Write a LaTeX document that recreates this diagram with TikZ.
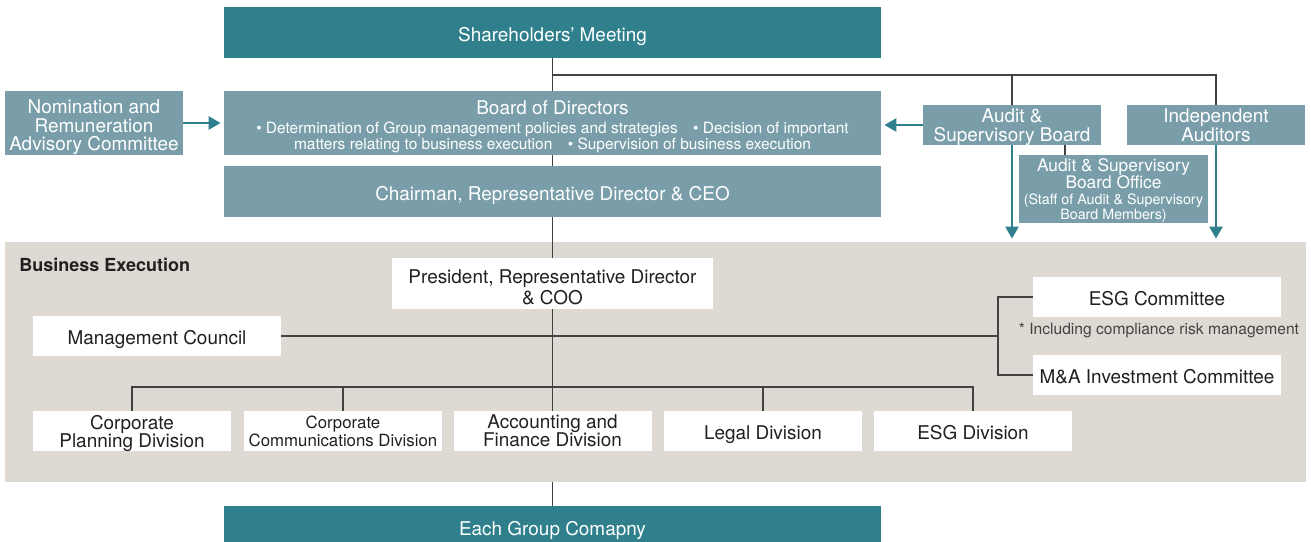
\documentclass[tikz,border=0pt]{standalone}
\usepackage{fontspec}
\setmainfont{TeX Gyre Heros}
\usepackage{tikz}
\usetikzlibrary{arrows.meta}
\definecolor{teal1}{RGB}{47,128,140}
\definecolor{slate}{RGB}{121,158,170}
\definecolor{sand}{RGB}{222,218,211}
\definecolor{ink}{RGB}{35,31,32}
\newcommand{\pxu}{0.75pt}
\begin{document}
\begin{tikzpicture}[x=0.75pt,y=-0.75pt,
 box/.style={inner sep=0pt,align=center,text depth=0pt,execute at begin node={\rule{0pt}{13pt}}},
 tbox/.style={box,fill=teal1,text=white,font=\fontsize{14.2}{14}\selectfont},
 sbox/.style={box,fill=slate,text=white,font=\fontsize{14.2}{13.9}\selectfont},
 wbox/.style={box,fill=white,text=ink,font=\fontsize{14.2}{13.5}\selectfont},
 ln/.style={draw=ink!85,line width=1.1pt},
 arr/.style={draw=teal1,line width=2.2pt,-{Triangle[width=9.5pt,length=9pt]},shorten >=2.25pt}]
\useasboundingbox (0,0) rectangle (1311,542);
\node[fill=sand,minimum width=1301*\pxu,minimum height=240*\pxu,inner sep=0pt] (biz) at (655.5,362) {};
\node[font=\bfseries\fontsize{13.5}{14}\selectfont,text=ink,anchor=west,inner sep=0pt] (bx) at (19,265) {Business Execution};

\node[tbox,minimum width=657*\pxu,minimum height=51*\pxu] (sh) at (552.5,32.5) {Shareholders’ Meeting};
\node[sbox,minimum width=657*\pxu,minimum height=64*\pxu,font=\fontsize{14.2}{12.75}\selectfont] (bod) at (552.5,123) {\rule{0pt}{13.5pt}Board of Directors\\[1.5pt] {\fontsize{11.6}{12.75}\selectfont • Determination of Group management policies and strategies\quad • Decision of important}\\ {\fontsize{11.6}{12.75}\selectfont matters relating to business execution\quad • Supervision of business execution}};
\node[sbox,minimum width=657*\pxu,minimum height=51*\pxu] (ceo) at (552.5,191.5) {Chairman, Representative Director \& CEO};
\node[sbox,minimum width=178*\pxu,minimum height=64*\pxu] (nom) at (94,123) {\rule{0pt}{13.5pt}Nomination and\\Remuneration\\Advisory Committee};
\node[sbox,minimum width=178*\pxu,minimum height=40*\pxu,font=\fontsize{14.2}{14.25}\selectfont] (asb) at (1012,125) {Audit \&\\Supervisory Board};
\node[sbox,minimum width=178*\pxu,minimum height=40*\pxu,font=\fontsize{14.2}{14.25}\selectfont] (ia) at (1216,125) {Independent\\Auditors};
\node[sbox,minimum width=189*\pxu,minimum height=68*\pxu,font=\fontsize{13}{12.75}\selectfont] (office) at (1113.5,189) {Audit \& Supervisory\\ Board Office\\[-0.75pt] {\fontsize{10.7}{11}\selectfont (Staff of Audit \& Supervisory}\\[-1.5pt] {\fontsize{10.7}{11}\selectfont Board Members)}};

\node[wbox,minimum width=321*\pxu,minimum height=51*\pxu,font=\fontsize{14.2}{15.75}\selectfont] (pres) at (552.5,283.5) {\rule{0pt}{15pt}President, Representative Director\\\& COO};
\node[wbox,minimum width=248*\pxu,minimum height=40*\pxu] (mc) at (157,336) {Management Council};
\node[wbox,minimum width=248*\pxu,minimum height=40*\pxu] (esg) at (1157,297) {ESG Committee};
\node[font=\fontsize{11.7}{12}\selectfont,text=ink!85,inner sep=0pt] (note) at (1159,331) {* Including compliance risk management};
\node[wbox,minimum width=248*\pxu,minimum height=40*\pxu] (ma) at (1157,375) {M\&A Investment Committee};
\node[wbox,minimum width=198*\pxu,minimum height=40*\pxu] (cpd) at (132,431) {Corporate\\Planning Division};
\node[wbox,minimum width=198*\pxu,minimum height=40*\pxu,font=\fontsize{12.6}{13.5}\selectfont] (ccd) at (343,431) {Corporate\\Communications Division};
\node[wbox,minimum width=198*\pxu,minimum height=40*\pxu] (acc) at (552.5,431) {Accounting and\\Finance Division};
\node[wbox,minimum width=198*\pxu,minimum height=40*\pxu] (leg) at (763,431) {Legal Division};
\node[wbox,minimum width=198*\pxu,minimum height=40*\pxu] (esgd) at (973,431) {ESG Division};
\node[tbox,minimum width=657*\pxu,minimum height=42*\pxu] (egc) at (552.5,527) {Each Group Comapny};

\coordinate (top) at (552.5,75); \coordinate (bus) at (552.5,387); \coordinate (br) at (998,336);
\draw[ln] (sh) -- (bod); \draw[ln] (bod) -- (ceo); \draw[ln] (ceo) -- (pres); \draw[ln] (pres) -- (acc);
\draw[ln] (top) -| (asb.north); \draw[ln] (top) -| (ia.north);
\draw[ln] ([xshift=-48.5*\pxu]office.north) -- ([xshift=-48.5*\pxu]office.north |- asb.south);
\draw[ln] (mc) -- (br); \draw[ln] (esg.west) -| (br) |- (ma.west);
\foreach \d in {cpd,ccd,leg,esgd} \draw[ln] (\d.north) |- (bus);
\draw[ln] (egc.north |- biz.south) -- (egc);

\draw[arr] (nom) -- (bod); \draw[arr] (asb.west) -- (asb.west -| bod.east);
\draw[arr] (asb) -- (asb |- biz.north); \draw[arr] (ia) -- (ia |- biz.north);
\end{tikzpicture}
\end{document}
